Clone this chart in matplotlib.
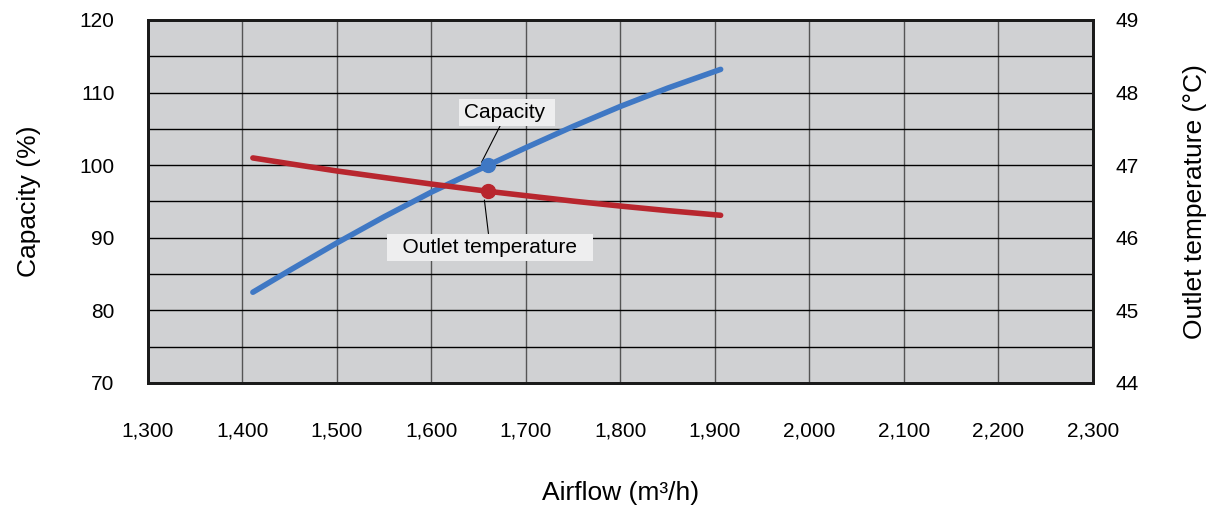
import numpy as np
import matplotlib.pyplot as plt
from matplotlib.ticker import FuncFormatter, MultipleLocator

plt.rcParams['font.family'] = ['Liberation Sans', 'DejaVu Sans']

airflow = [1411, 1450, 1500, 1550, 1600, 1660, 1700, 1750, 1800, 1850, 1906]
capacity = [82.5, 85.52, 89.3, 92.9, 96.3, 100.0, 102.42, 105.35, 108.1, 110.62, 113.2]
outlet_temp = [47.1, 47.02, 46.92, 46.83, 46.74, 46.64, 46.58, 46.505, 46.437, 46.374, 46.31]
point_airflow = 1660
point_capacity = 100.0
point_temp = 46.64

fig = plt.figure(figsize=(12.14, 5.14), dpi=100)
ax = fig.add_axes([0.1219, 0.2549, 0.7784, 0.7062])
ax2 = ax.twinx()

ax.set_facecolor('#d0d1d3')
ax.set_xlim(1300, 2300)
ax.set_ylim(70, 120)
ax2.set_ylim(44, 49)

ax.xaxis.set_major_locator(MultipleLocator(100))
ax.yaxis.set_major_locator(MultipleLocator(10))
ax.yaxis.set_minor_locator(MultipleLocator(5))
ax.xaxis.set_major_formatter(FuncFormatter(lambda v, p: f'{int(v):,}'))
ax2.yaxis.set_major_locator(MultipleLocator(1))

ax.grid(axis='x', which='major', color='#555555', lw=1)
ax.grid(axis='y', which='both', color='black', lw=1)
ax.set_axisbelow(True)

for a in (ax, ax2):
    for s in a.spines.values():
        s.set_linewidth(2)
        s.set_color('#1a1a1a')
    a.tick_params(length=0, labelsize=15)
ax.tick_params(axis='x', pad=28)
ax.tick_params(axis='y', which='both', length=0, pad=24)
ax2.tick_params(axis='y', pad=16)

ax.plot(airflow, capacity, color='#3f78c4', lw=4, solid_capstyle='round', zorder=3)
ax2.plot(airflow, outlet_temp, color='#b8262e', lw=4, solid_capstyle='round', zorder=3)
ax.plot(point_airflow, point_capacity, 'o', color='#3f78c4', ms=10, zorder=4)
ax2.plot(point_airflow, point_temp, 'o', color='#b8262e', ms=10, zorder=4)

bbox = dict(boxstyle='square,pad=0.2', fc='#eeeeef', ec='none')
ax.annotate('Capacity ', xy=(1653, 100.4), xytext=(1680, 107.3),
            ha='center', va='center', fontsize=15, bbox=bbox,
            arrowprops=dict(arrowstyle='-', color='black', lw=0.8, shrinkA=0, shrinkB=0))
ax2.annotate('  Outlet temperature  ', xy=(1656, 46.52), xytext=(1662, 45.87),
             ha='center', va='center', fontsize=15, bbox=bbox,
             arrowprops=dict(arrowstyle='-', color='black', lw=0.8, shrinkA=0, shrinkB=0))

ax.set_xlabel('Airflow (m³/h)', fontsize=19, labelpad=29)
ax.set_ylabel('Capacity (%)', fontsize=19, labelpad=28)
ax2.set_ylabel('Outlet temperature (°C)', fontsize=19, labelpad=32)

fig.savefig('out.png', dpi=100)
